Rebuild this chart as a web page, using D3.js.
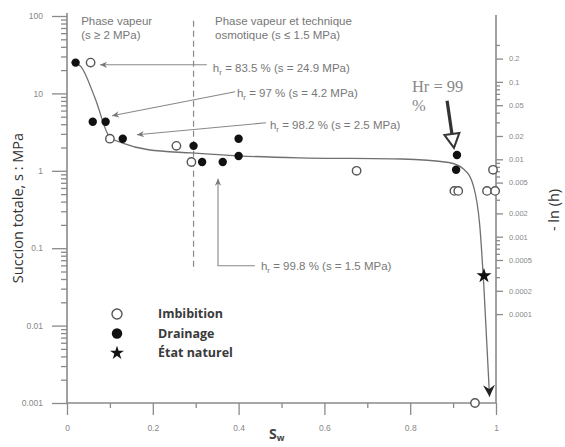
<!DOCTYPE html>
<html><head><meta charset="utf-8">
<script src="https://cdn.jsdelivr.net/npm/d3@7"></script>
<style>body{margin:0;background:#fff}svg{display:block}</style>
</head><body>
<svg id="c" width="565" height="447"></svg>
<script>
// ---- data ----
const imbibitionS       = [0.055, 0.10, 0.255, 0.29, 0.675, 0.903, 0.912, 0.979, 0.998, 0.993, 0.951];
const imbibitionSuction = [25,    2.6,  2.1,   1.3,  1.0,   0.55,  0.55,  0.55,  0.55,  1.03,  0.001];
const drainageS         = [0.02, 0.06, 0.09, 0.13, 0.295, 0.40, 0.40, 0.315, 0.363, 0.909, 0.907];
const drainageSuction   = [25,   4.3,  4.3,  2.6,  2.1,   2.6,  1.55, 1.3,   1.3,   1.6,   1.03];
const naturalS          = [0.972];
const naturalSuction    = [0.044];
const fitS       = [0.02, 0.033, 0.065, 0.10, 0.128, 0.19, 0.29, 0.40, 0.54, 0.78, 0.89, 0.925, 0.948, 0.962, 0.972, 0.985];
const fitSuction = [25,   22,    8.8,   2.7,  2.3,   1.87, 1.7,  1.56, 1.47, 1.42, 1.28, 1.05,  0.62,  0.2,   0.03,  0.0012];

const xTicks = [0, 0.2, 0.4, 0.6, 0.8, 1];
const xTickLabels = ["0", "0.2", "0.4", "0.6", "0.8", "1"];
const xMinorTicks = [0.1, 0.3, 0.5, 0.7, 0.9];
const yTicks = [100, 10, 1, 0.1, 0.01, 0.001];
const yTickLabels = ["100", "10", "1", "0.1", "0.01", "0.001"];
const rTicks = [0.2, 0.1, 0.05, 0.02, 0.01, 0.005, 0.002, 0.001, 0.0005, 0.0002, 0.0001];
const rTickLabels = ["0.2", "0.1", "0.05", "0.02", "0.01", "0.005", "0.002", "0.001", "0.0005", "0.0002", "0.0001"];

const annValues = ["83.5 % (s = 24.9 MPa)", "97 % (s = 4.2 MPa)", "98.2 % (s = 2.5 MPa)", "99.8 % (s = 1.5 MPa)"];
const annTextS = [0.340, 0.396, 0.473, 0.452];
const annTextSuction = [21.4, 10.2, 3.93, 0.0592];
const annFromS = [0.326, 0.392, 0.464];
const annFromSuction = [23.4, 10.5, 4.17];
const annToS = [0.077, 0.105, 0.163];
const annToSuction = [23.4, 5.14, 2.92];
const ann4S = [0.438, 0.352, 0.352];
const ann4Suction = [0.0592, 0.0592, 0.79];

const legendLabels = ["Imbibition", "Drainage", "État naturel"];

const K = 0.0071; // -ln(h) per MPa

// ---- scales ----
const svg = d3.select("#c");
const x = d3.scaleLinear().domain([0, 1]).range([67, 496]);
const y = d3.scaleLog().domain([0.001, 100]).range([403, 16]);
const yR = d3.scaleLog().domain([0.001 * K, 100 * K]).range([403, 16]);

const axisCol = "#8a8a8a";
const txtCol = "#777";

// defs
const defs = svg.append("defs");
defs.append("marker").attr("id", "ah").attr("viewBox", "0 0 10 10").attr("refX", 10).attr("refY", 5)
  .attr("markerWidth", 9).attr("markerHeight", 7).attr("markerUnits", "userSpaceOnUse").attr("orient", "auto")
  .append("path").attr("d", "M0,0.5 L10,5 L0,9.5 L3,5 Z").attr("fill", "#777");
defs.append("marker").attr("id", "ahBig").attr("viewBox", "0 0 10 10").attr("refX", 10).attr("refY", 5)
  .attr("markerWidth", 12).attr("markerHeight", 12).attr("markerUnits", "userSpaceOnUse").attr("orient", "auto")
  .append("path").attr("d", "M0,0 L10,5 L0,10 L3.5,5 Z").attr("fill", "#222");

// ---- axes ----
function styleAxis(g, fs) {
  g.select(".domain").remove();
  g.selectAll("line").attr("stroke", axisCol).attr("stroke-width", 1.3);
  g.selectAll("text").attr("fill", "#888").attr("font-family", "Liberation Sans, Arial, sans-serif").attr("font-size", fs);
}
// left
const yMinor = [];
for (let e = -3; e <= 1; e++) for (let m = 2; m <= 9; m++) yMinor.push(m * Math.pow(10, e));
svg.append("g").attr("transform", "translate(67,0)")
  .call(d3.axisLeft(y).tickValues(yMinor).tickSize(6).tickFormat(""))
  .call(g => styleAxis(g, 8));
svg.append("g").attr("transform", "translate(67,0)")
  .call(d3.axisLeft(y).tickValues(yTicks).tickSize(15).tickPadding(9).tickFormat((d, i) => yTickLabels[i]))
  .call(g => styleAxis(g, 8.5));
svg.append("line").attr("x1", 67).attr("x2", 67).attr("y1", 13).attr("y2", 403).attr("stroke", axisCol).attr("stroke-width", 1.6);

// bottom
svg.append("g").attr("transform", "translate(0,403)")
  .call(d3.axisBottom(x).tickValues(xMinorTicks).tickSize(5).tickFormat(""))
  .call(g => styleAxis(g, 8));
svg.append("g").attr("transform", "translate(0,403)")
  .call(d3.axisBottom(x).tickValues(xTicks).tickSize(12).tickPadding(10).tickFormat((d, i) => xTickLabels[i]))
  .call(g => styleAxis(g, 8.5));
svg.append("line").attr("x1", 67).attr("x2", 496).attr("y1", 403).attr("y2", 403).attr("stroke", axisCol).attr("stroke-width", 1.6);

// right
const rMinor = [];
for (let e = -4; e <= -1; e++) for (let m = 1; m <= 9; m++) {
  const v = +(m * Math.pow(10, e)).toPrecision(3);
  if (v <= 0.3 && !rTicks.some(t => Math.abs(t - v) < 1e-12)) rMinor.push(v);
}
svg.append("g").attr("transform", "translate(496,0)")
  .call(d3.axisRight(yR).tickValues(rMinor).tickSize(4).tickFormat(""))
  .call(g => styleAxis(g, 8));
svg.append("g").attr("transform", "translate(496,0)")
  .call(d3.axisRight(yR).tickValues(rTicks).tickSize(7).tickPadding(6).tickFormat((d, i) => rTickLabels[i]))
  .call(g => styleAxis(g, 7.5));
svg.append("line").attr("x1", 496).attr("x2", 496).attr("y1", 15).attr("y2", 403).attr("stroke", axisCol).attr("stroke-width", 1.6);

// axis titles
svg.append("text").attr("transform", "translate(23,208) rotate(-90)").attr("text-anchor", "middle")
  .attr("font-family", "Open Sans, sans-serif").attr("font-size", 14.5).attr("fill", "#333")
  .text("Succion totale, s : MPa");
svg.append("text").attr("transform", "translate(559,210) rotate(-90)").attr("text-anchor", "middle")
  .attr("font-family", "Open Sans, sans-serif").attr("font-size", 14.5).attr("fill", "#333")
  .text("- ln (h)");
const xt = svg.append("text").attr("x", 269).attr("y", 439).attr("font-family", "Open Sans, sans-serif")
  .attr("font-weight", "bold").attr("font-size", 14).attr("fill", "#444");
xt.append("tspan").text("S");
xt.append("tspan").attr("dy", 2).attr("font-size", 9).text("w");

// ---- phase labels + dashed line ----
const small = { "font-family": "Liberation Sans, Arial, sans-serif", "font-size": 11.5, "fill": txtCol };
function addText(tx, ty, str, attrs) {
  const t = svg.append("text").attr("x", tx).attr("y", ty);
  Object.entries(attrs || small).forEach(([k, v]) => t.attr(k, v));
  t.text(str);
  return t;
}
addText(x(0.033), y(77), "Phase vapeur");
addText(x(0.033), y(50.9), "(s ≥ 2 MPa)");
addText(x(0.345), y(77), "Phase vapeur et technique");
addText(x(0.345), y(50.9), "osmotique (s ≤ 1.5 MPa)");
svg.append("line").attr("x1", x(0.295)).attr("x2", x(0.295)).attr("y1", y(86.6)).attr("y2", y(0.0509))
  .attr("stroke", "#888").attr("stroke-width", 1.2).attr("stroke-dasharray", "6,4");

// ---- fit curve ----
const line = d3.line().x(d => x(d[0])).y(d => y(d[1])).curve(d3.curveMonotoneX);
svg.append("path").datum(fitS.map((s, i) => [s, fitSuction[i]])).attr("d", line)
  .attr("fill", "none").attr("stroke", "#707070").attr("stroke-width", 1.3).attr("marker-end", "url(#ahBig)");

// ---- annotations ----
for (let i = 0; i < 3; i++) {
  svg.append("line").attr("x1", x(annFromS[i])).attr("y1", y(annFromSuction[i]))
    .attr("x2", x(annToS[i])).attr("y2", y(annToSuction[i]))
    .attr("stroke", "#888").attr("stroke-width", 1.1).attr("marker-end", "url(#ah)");
}
svg.append("path").datum(ann4S.map((s, i) => [s, ann4Suction[i]]))
  .attr("d", d3.line().x(d => x(d[0])).y(d => y(d[1])))
  .attr("fill", "none").attr("stroke", "#888").attr("stroke-width", 1.1).attr("marker-end", "url(#ah)");
annValues.forEach((v, i) => {
  const t = svg.append("text").attr("x", x(annTextS[i])).attr("y", y(annTextSuction[i])).attr("dy", "0.35em");
  Object.entries(small).forEach(([k, val]) => t.attr(k, val));
  t.append("tspan").text("h");
  t.append("tspan").attr("font-size", 8).attr("dy", 3).text("r");
  t.append("tspan").attr("dy", -3).text(" = " + v);
});

// Hr = 99 %
const serif = { "font-family": "Liberation Serif, Times New Roman, serif", "font-size": 16.5, "fill": "#888" };
addText(x(0.804), y(10.5), "Hr = 99", serif);
addText(x(0.804), y(5.95), "%", serif);
(function () {
  const p0 = [x(0.886), y(8.03)], tip = [x(0.902), y(1.98)];
  const dx = tip[0] - p0[0], dy = tip[1] - p0[1], L = Math.hypot(dx, dy);
  const u = [dx / L, dy / L], n = [-u[1], u[0]];
  const hl = 14, hw = 7.5;
  const b = [tip[0] - u[0] * hl, tip[1] - u[1] * hl];
  svg.append("line").attr("x1", p0[0]).attr("y1", p0[1]).attr("x2", b[0]).attr("y2", b[1])
    .attr("stroke", "#333").attr("stroke-width", 3.2);
  svg.append("path").attr("d", `M${b[0] + n[0] * hw},${b[1] + n[1] * hw} L${tip[0]},${tip[1]} L${b[0] - n[0] * hw},${b[1] - n[1] * hw} Z`)
    .attr("fill", "#fff").attr("stroke", "#333").attr("stroke-width", 2);
})();

// ---- points ----
svg.append("g").selectAll("circle").data(imbibitionS.map((s, i) => [s, imbibitionSuction[i]])).join("circle")
  .attr("cx", d => x(d[0])).attr("cy", d => y(d[1])).attr("r", 4.2)
  .attr("fill", "#fff").attr("stroke", "#555").attr("stroke-width", 1.4);
svg.append("g").selectAll("circle").data(drainageS.map((s, i) => [s, drainageSuction[i]])).join("circle")
  .attr("cx", d => x(d[0])).attr("cy", d => y(d[1])).attr("r", 4.2).attr("fill", "#111");
const star = d3.symbol(d3.symbolStar, 70);
svg.append("g").selectAll("path").data(naturalS.map((s, i) => [s, naturalSuction[i]])).join("path")
  .attr("transform", d => `translate(${x(d[0])},${y(d[1])})`).attr("d", star).attr("fill", "#111");

// ---- legend ----
const lg = svg.append("g").attr("transform", "translate(117,314)");
lg.append("circle").attr("cx", 0).attr("cy", 0).attr("r", 5).attr("fill", "#fff").attr("stroke", "#555").attr("stroke-width", 1.4);
lg.append("circle").attr("cx", 0).attr("cy", 19.5).attr("r", 5.2).attr("fill", "#111");
lg.append("path").attr("transform", "translate(0,39)").attr("d", d3.symbol(d3.symbolStar, 60)).attr("fill", "#111");
legendLabels.forEach((l, i) => {
  lg.append("text").attr("x", 41).attr("y", i * 19.5).attr("dy", "0.35em")
    .attr("font-family", "Open Sans, sans-serif").attr("font-weight", "bold").attr("font-size", 12.5)
    .attr("fill", "#3a3a3a").text(l);
});
</script>
</body></html>
